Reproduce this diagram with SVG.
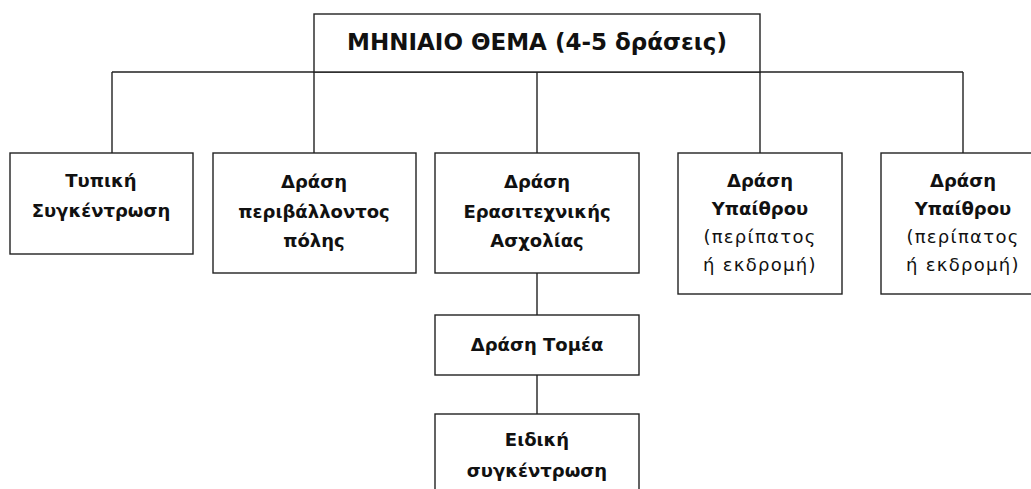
<svg xmlns="http://www.w3.org/2000/svg" width="1031" height="489" viewBox="0 0 1031 489">
<style>
.box{fill:#fff;stroke:#222;stroke-width:1.4}
.ln{fill:none;stroke:#222;stroke-width:1.4}
text{font-family:"DejaVu Sans","Noto Sans",sans-serif;fill:#111;text-anchor:middle}
.t{font-size:23px;font-weight:bold}
.b{font-size:18px;font-weight:bold}
.n{font-size:18px;letter-spacing:1.3px}
</style>
<rect width="1031" height="489" fill="#fff"/>
<g id="connectors">
<path class="ln" d="M112,72 H963 M112,72 V153 M314,72 V153 M537,72 V153 M760,72 V153 M963,72 V153 M537,273 V315 M537,375 V414"/>
</g>
<g id="n0"><rect class="box" x="314" y="14" width="446" height="58"/><text class="t" x="537" y="50">ΜΗΝΙΑΙΟ ΘΕΜΑ (4-5 δράσεις)</text></g>
<g id="n1"><rect class="box" x="10" y="153" width="183" height="101"/><text class="b" x="101" y="187">Τυπική</text><text class="b" x="101" y="217">Συγκέντρωση</text></g>
<g id="n2"><rect class="box" x="213" y="153" width="203" height="120"/><text class="b" x="314" y="188">Δράση</text><text class="b" x="314" y="218">περιβάλλοντος</text><text class="b" x="314" y="247">πόλης</text></g>
<g id="n3"><rect class="box" x="435" y="153" width="204" height="120"/><text class="b" x="537" y="188">Δράση</text><text class="b" x="537" y="218">Ερασιτεχνικής</text><text class="b" x="537" y="247">Ασχολίας</text></g>
<g id="n4"><rect class="box" x="678" y="153" width="164" height="141"/><text class="b" x="760" y="187">Δράση</text><text class="b" x="760" y="215">Υπαίθρου</text><text class="n" x="760" y="243">(περίπατος</text><text class="n" x="760" y="271">ή εκδρομή)</text></g>
<g id="n5"><rect class="box" x="881" y="153" width="164" height="141"/><text class="b" x="963" y="187">Δράση</text><text class="b" x="963" y="215">Υπαίθρου</text><text class="n" x="963" y="243">(περίπατος</text><text class="n" x="963" y="271">ή εκδρομή)</text></g>
<g id="n6"><rect class="box" x="435" y="315" width="204" height="60"/><text class="b" x="537" y="351">Δράση Τομέα</text></g>
<g id="n7"><rect class="box" x="435" y="414" width="204" height="90"/><text class="b" x="537" y="446">Ειδική</text><text class="b" x="537" y="477">συγκέντρωση</text></g>
</svg>
